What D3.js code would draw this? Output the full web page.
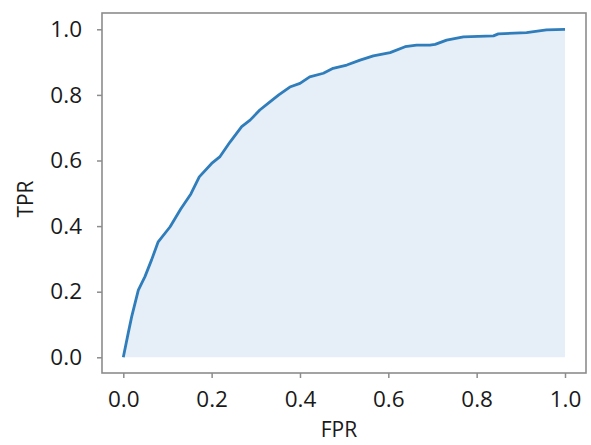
<!DOCTYPE html>
<html>
<head>
<meta charset="utf-8">
<script src="https://cdn.jsdelivr.net/npm/d3@7"></script>
<style>
  html, body { margin: 0; padding: 0; background: #fff; }
  text { font-family: "Open Sans", "DejaVu Sans", sans-serif; fill: #1a1a1a; }
</style>
</head>
<body>
<div id="chart"></div>
<script>
// ROC curve points
const fpr = [0, 0.011, 0.019, 0.034, 0.049, 0.064, 0.079, 0.106, 0.130, 0.153, 0.172,
  0.200, 0.219, 0.242, 0.268, 0.287, 0.309, 0.332, 0.352, 0.377, 0.400, 0.422, 0.453,
  0.475, 0.506, 0.536, 0.566, 0.604, 0.638, 0.664, 0.694, 0.706, 0.732, 0.770, 0.838,
  0.849, 0.913, 0.958, 1.0];
const tpr = [0, 0.073, 0.124, 0.205, 0.246, 0.297, 0.352, 0.398, 0.452, 0.498, 0.550,
  0.591, 0.612, 0.657, 0.703, 0.723, 0.754, 0.779, 0.800, 0.824, 0.835, 0.855, 0.866,
  0.881, 0.891, 0.906, 0.919, 0.929, 0.947, 0.952, 0.952, 0.954, 0.967, 0.977, 0.980,
  0.986, 0.990, 0.998, 1.0];
const ticks = [0, 0.2, 0.4, 0.6, 0.8, 1.0];
const xLabel = "FPR";
const yLabel = "TPR";

const width = 591, height = 445;
const frame = { left: 102, right: 586, top: 13, bottom: 373 };

const svg = d3.select("#chart").append("svg")
  .attr("width", width)
  .attr("height", height);

const x = d3.scaleLinear().domain([0, 1]).range([123.3, 565]);
const y = d3.scaleLinear().domain([0, 1]).range([357.3, 29.3]);

const pts = fpr.map((d, i) => ({ f: d, t: tpr[i] }));

// shaded area under curve
svg.append("path")
  .datum(pts)
  .attr("fill", "#e6eef7")
  .attr("d", d3.area().x(d => x(d.f)).y0(y(0)).y1(d => y(d.t)));

// the curve
svg.append("path")
  .datum(pts)
  .attr("fill", "none")
  .attr("stroke", "#2f7dbb")
  .attr("stroke-width", 2.8)
  .attr("stroke-linejoin", "round")
  .attr("d", d3.line().x(d => x(d.f)).y(d => y(d.t)));

// frame
svg.append("rect")
  .attr("x", frame.left)
  .attr("y", frame.top)
  .attr("width", frame.right - frame.left)
  .attr("height", frame.bottom - frame.top)
  .attr("fill", "none")
  .attr("stroke", "#8c8c8c")
  .attr("stroke-width", 1.6);

// axes
const xAxis = svg.append("g")
  .attr("transform", `translate(0, ${frame.bottom})`)
  .call(d3.axisBottom(x).tickValues(ticks).tickFormat(d3.format(".1f")).tickSize(5).tickPadding(13));
const yAxis = svg.append("g")
  .attr("transform", `translate(${frame.left}, 0)`)
  .call(d3.axisLeft(y).tickValues(ticks).tickFormat(d3.format(".1f")).tickSize(5).tickPadding(15));

[xAxis, yAxis].forEach(g => {
  g.select(".domain").remove();
  g.selectAll(".tick line").attr("stroke", "#8c8c8c").attr("stroke-width", 1.5);
  g.selectAll(".tick text")
    .attr("fill", "#1a1a1a")
    .style("font-size", "22.5px")
    .style("font-family", '"Open Sans", "DejaVu Sans", sans-serif');
});

// axis titles
svg.append("text")
  .attr("x", 339)
  .attr("y", 437)
  .attr("text-anchor", "middle")
  .style("font-size", "21px")
  .text(xLabel);

svg.append("text")
  .attr("transform", "translate(33, 199) rotate(-90)")
  .attr("text-anchor", "middle")
  .style("font-size", "21px")
  .text(yLabel);
</script>
</body>
</html>
